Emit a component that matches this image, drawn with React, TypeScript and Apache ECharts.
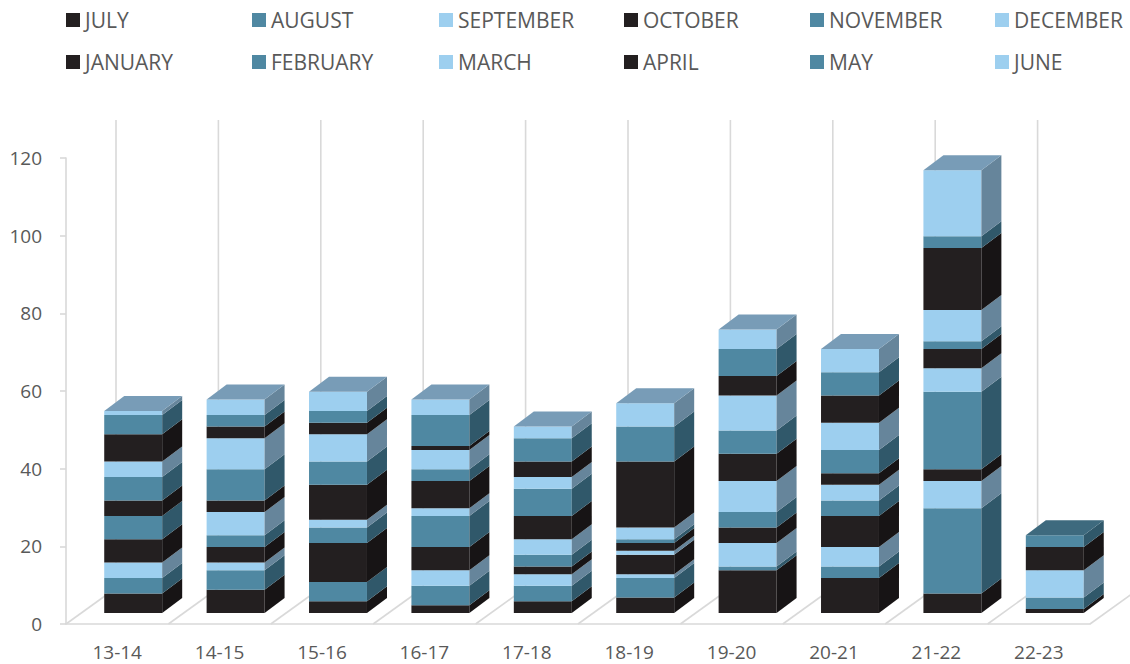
import React, { useEffect, useRef } from "react";
import * as echarts from "echarts";

const categories = ["13-14", "14-15", "15-16", "16-17", "17-18", "18-19", "19-20", "20-21", "21-22", "22-23"];
const monthNames = ["JULY", "AUGUST", "SEPTEMBER", "OCTOBER", "NOVEMBER", "DECEMBER", "JANUARY", "FEBRUARY", "MARCH", "APRIL", "MAY", "JUNE"];

const july = [5, 6, 3, 2, 3, 4, 11, 9, 5, 1];
const august = [4, 5, 5, 5, 4, 5, 1, 3, 22, 3];
const september = [4, 2, 0, 4, 3, 1, 6, 5, 7, 7];
const october = [6, 4, 10, 6, 2, 5, 4, 8, 3, 6];
const november = [6, 3, 4, 8, 3, 0, 4, 4, 20, 3];
const december = [0, 6, 2, 2, 4, 1, 8, 4, 6, 0];
const january = [4, 3, 9, 7, 6, 2, 7, 3, 5, 0];
const february = [6, 8, 6, 3, 7, 1, 6, 6, 2, 0];
const march = [4, 8, 7, 5, 3, 3, 9, 7, 8, 0];
const april = [7, 3, 3, 1, 4, 17, 5, 7, 16, 0];
const may = [5, 3, 3, 8, 6, 9, 7, 6, 3, 0];
const june = [1, 4, 5, 4, 3, 6, 5, 6, 17, 0];

const yTicks = [0, 20, 40, 60, 80, 100, 120];

const monthValues = [july, august, september, october, november, december, january, february, march, april, may, june];

// colour palettes: [front, side, top]
const BLACK = ["#231F20", "#171415", "#3a3536"];
const TEAL = ["#4F88A2", "#30586A", "#3E6A7E"];
const LIGHT = ["#9DCFEF", "#66859B", "#789CB7"];
const palettes = [BLACK, TEAL, LIGHT, BLACK, TEAL, LIGHT, BLACK, TEAL, LIGHT, BLACK, TEAL, LIGHT];

// 3D projection offsets (pixels)
const FX = 16, FY = -11; // bar front plane offset from the axis plane
const DX = 20, DY = -15; // bar depth
const BX = 50, BY = -36; // back wall offset

const legendCols = [66, 252, 439, 624, 810, 995];
const legendRows = [8, 50];

export default function App() {
  const ref = useRef<HTMLDivElement>(null);
  useEffect(() => {
    if (!ref.current) return;
    const chart = echarts.init(ref.current, undefined, { renderer: "svg" });

    const topIndex = categories.map((_, c) => {
      let t = -1;
      monthValues.forEach((arr, m) => { if (arr[c] > 0) t = m; });
      return t;
    });

    const cum = categories.map(() => 0);
    const barSeries = monthValues.map((arr, m) => {
      const pal = palettes[m];
      const data = arr.map((v, c) => {
        const s = cum[c];
        cum[c] += v;
        return [c, s, s + v, topIndex[c] === m ? 1 : 0];
      });
      return {
        type: "custom",
        name: monthNames[m],
        itemStyle: { color: pal[0] },
        data,
        z: 3,
        renderItem: (params: any, api: any) => {
          const i = api.value(0), s = api.value(1), e = api.value(2), top = api.value(3);
          if (e <= s) return null;
          const b = api.coord([i, s]);
          const t = api.coord([i, e]);
          const bw = api.size([1, 0])[0];
          const w = bw * 0.566;
          const x0 = b[0] + FX - w / 2;
          const yb = b[1] + FY;
          const yt = t[1] + FY;
          const children: any[] = [
            { type: "rect", shape: { x: x0, y: yt, width: w, height: yb - yt }, style: { fill: pal[0] } },
            {
              type: "polygon",
              shape: { points: [[x0 + w, yb], [x0 + w + DX, yb + DY], [x0 + w + DX, yt + DY], [x0 + w, yt]] },
              style: { fill: pal[1] },
            },
          ];
          if (top) {
            children.push({
              type: "polygon",
              shape: { points: [[x0, yt], [x0 + w, yt], [x0 + w + DX, yt + DY], [x0 + DX, yt + DY]] },
              style: { fill: pal[2] },
            });
          }
          return { type: "group", children };
        },
      };
    });

    const bgSeries = {
      type: "custom",
      name: "bg",
      silent: true,
      z: 1,
      data: categories.map((_, i) => [i]),
      renderItem: (params: any, api: any) => {
        const i = api.value(0);
        const c0 = api.coord([i, 0]);
        const cT = api.coord([i, yTicks[yTicks.length - 1]]);
        const bw = api.size([1, 0])[0];
        const xs = [c0[0] - bw / 2];
        if (i === categories.length - 1) xs.push(c0[0] + bw / 2);
        const style = { stroke: "#d9d9d9", lineWidth: 1.6 };
        const children: any[] = [];
        xs.forEach((x) => {
          children.push({ type: "line", shape: { x1: x, y1: c0[1], x2: x + BX, y2: c0[1] + BY }, style });
          children.push({ type: "line", shape: { x1: x + BX, y1: c0[1] + BY, x2: x + BX, y2: cT[1] + BY - 2 }, style });
        });
        return { type: "group", children };
      },
    };

    const legends = monthNames.map((name, m) => ({
      left: legendCols[m % 6],
      top: legendRows[Math.floor(m / 6)],
      padding: 0,
      itemWidth: 14,
      itemHeight: 14,
      icon: "rect",
      data: [name],
      selectedMode: false,
      textStyle: { color: "#595959", fontSize: 21, fontFamily: "Open Sans", lineHeight: 24 },
    }));

    chart.setOption({
      animation: false,
      backgroundColor: "#ffffff",
      legend: legends,
      grid: { left: 66, right: 40, top: 158, bottom: 40 },
      xAxis: {
        type: "category",
        data: categories,
        axisLine: { show: true, lineStyle: { color: "#d9d9d9", width: 1.6 } },
        axisTick: { show: false },
        splitLine: { show: false },
        axisLabel: { color: "#595959", fontSize: 19, fontFamily: "Open Sans", margin: 18 },
      },
      yAxis: {
        type: "value",
        min: 0,
        max: yTicks[yTicks.length - 1],
        interval: yTicks[1] - yTicks[0],
        axisLine: { show: true, lineStyle: { color: "#d9d9d9", width: 1.6 } },
        axisTick: { show: true, length: 6, lineStyle: { color: "#d9d9d9", width: 1.6 } },
        splitLine: { show: false },
        axisLabel: { color: "#595959", fontSize: 19, fontFamily: "Open Sans", margin: 24 },
      },
      series: [bgSeries, ...barSeries],
    });

    return () => chart.dispose();
  }, []);

  return <div ref={ref} style={{ position: "fixed", left: 0, top: 0, width: 1130, height: 664 }} />;
}
